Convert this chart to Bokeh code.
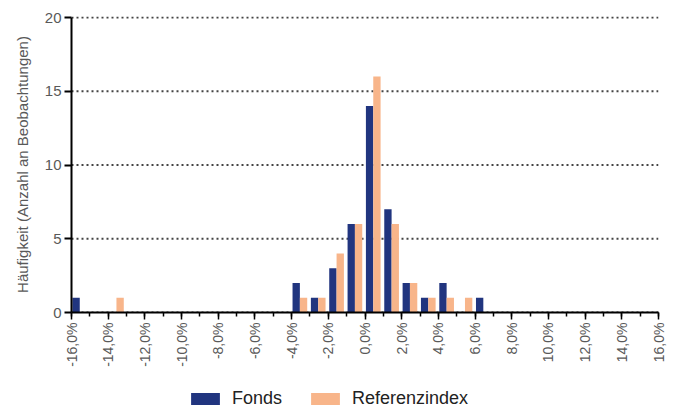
import numpy as np
from bokeh.plotting import figure
from bokeh.layouts import column
from bokeh.models import ColumnDataSource, FixedTicker, Legend, LegendItem, Range1d, Span
from bokeh.embed import file_html
from bokeh.resources import INLINE

# Bin lower edges (in %), bin width 1%
bins = list(range(-16, 16))
fonds = [1, 0, 0, 0, 0, 0, 0, 0, 0, 0, 0, 0,
         2, 1, 3, 6, 14, 7, 2, 1, 2, 0, 1,
         0, 0, 0, 0, 0, 0, 0, 0, 0]
referenz = [0, 0, 1, 0, 0, 0, 0, 0, 0, 0, 0, 0,
            1, 1, 4, 6, 16, 6, 2, 1, 1, 1, 0,
            0, 0, 0, 0, 0, 0, 0, 0, 0]
series_names = ["Fonds", "Referenzindex"]
x_ticks = [-16, -14, -12, -10, -8, -6, -4, -2, 0, 2, 4, 6, 8, 10, 12, 14, 16]
x_tick_labels = ["-16,0%", "-14,0%", "-12,0%", "-10,0%", "-8,0%", "-6,0%", "-4,0%", "-2,0%",
                 "0,0%", "2,0%", "4,0%", "6,0%", "8,0%", "10,0%", "12,0%", "14,0%", "16,0%"]
x_minor_ticks = list(range(-16, 17))
y_ticks = [0, 5, 10, 15, 20]
y_label = "Häufigkeit (Anzahl an Beobachtungen)"

FONT = "Liberation Sans"
C_FONDS = "#21357f"
C_REF = "#f8b58a"
GRAY = "#595959"

b = np.array(bins, dtype=float)
src = ColumnDataSource(dict(xf=b + 0.25, xr=b + 0.65, fonds=fonds, ref=referenz))

p = figure(width=677, height=370, output_backend="svg", toolbar_location=None,
           x_range=Range1d(-16, 16), y_range=Range1d(0, 20.07),
           min_border_left=71, min_border_right=19, min_border_top=16, min_border_bottom=58)
p.outline_line_color = None

# dotted horizontal grid lines
p.xgrid.grid_line_color = None
p.ygrid.grid_line_color = None
for t in y_ticks:
    p.add_layout(Span(location=t, dimension="width", line_color="#444444",
                      line_width=2, line_dash="2 3", level="underlay"))

r1 = p.vbar(x="xf", top="fonds", width=0.4, source=src, fill_color=C_FONDS, line_color=None)
r2 = p.vbar(x="xr", top="ref", width=0.4, source=src, fill_color=C_REF, line_color=None)

# x axis
xa = p.xaxis[0]
xa.ticker = FixedTicker(ticks=x_ticks, minor_ticks=x_minor_ticks)
xa.major_label_overrides = {t: l for t, l in zip(x_ticks, x_tick_labels)}
xa.major_label_orientation = np.pi / 2
xa.major_tick_out = 7
xa.major_tick_in = 0
xa.minor_tick_out = 4
xa.minor_tick_in = 0
xa.axis_line_width = 2
xa.axis_line_color = "black"
xa.major_tick_line_color = "black"
xa.minor_tick_line_color = "black"
xa.major_tick_line_width = 1.5
xa.minor_tick_line_width = 1.5
xa.major_label_standoff = 3
xa.major_label_text_font = FONT
xa.major_label_text_font_size = "14px"
xa.major_label_text_color = GRAY

# y axis
ya = p.yaxis[0]
ya.ticker = FixedTicker(ticks=y_ticks, minor_ticks=[])
ya.bounds = (0, 20)
ya.major_tick_out = 7
ya.major_tick_in = 0
ya.axis_line_width = 2
ya.axis_line_color = "black"
ya.major_tick_line_color = "black"
ya.major_tick_line_width = 2
ya.major_label_standoff = 3
ya.major_label_text_font = FONT
ya.major_label_text_font_size = "15px"
ya.major_label_text_color = GRAY
ya.axis_label = y_label
ya.axis_label_text_font = FONT
ya.axis_label_text_font_size = "15px"
ya.axis_label_text_font_style = "normal"
ya.axis_label_text_color = GRAY
ya.axis_label_standoff = 11

# legend strip below the chart (its frame is aligned with the chart's frame)
pl = figure(width=677, height=40, output_backend="svg", toolbar_location=None,
            x_axis_location=None, y_axis_location=None, min_border=0,
            x_range=Range1d(0, 1), y_range=Range1d(0, 1))
pl.outline_line_color = None
pl.xgrid.visible = False
pl.ygrid.visible = False
g1 = pl.vbar(x=[10], top=[0], width=0.4, fill_color=C_FONDS, line_color=None)
g2 = pl.vbar(x=[10], top=[0], width=0.4, fill_color=C_REF, line_color=None)
legend = Legend(items=[LegendItem(label=series_names[0], renderers=[g1]),
                       LegendItem(label=series_names[1], renderers=[g2])],
                orientation="horizontal", location=(116, 1),
                glyph_width=36, glyph_height=15, label_standoff=9, spacing=25,
                padding=0, margin=0, border_line_color=None, background_fill_alpha=0,
                label_text_font=FONT, label_text_font_size="18px", label_text_color="#222222",
                label_height=15)
pl.add_layout(legend, "center")

open("out.html", "w").write(file_html(column(p, pl), INLINE))
